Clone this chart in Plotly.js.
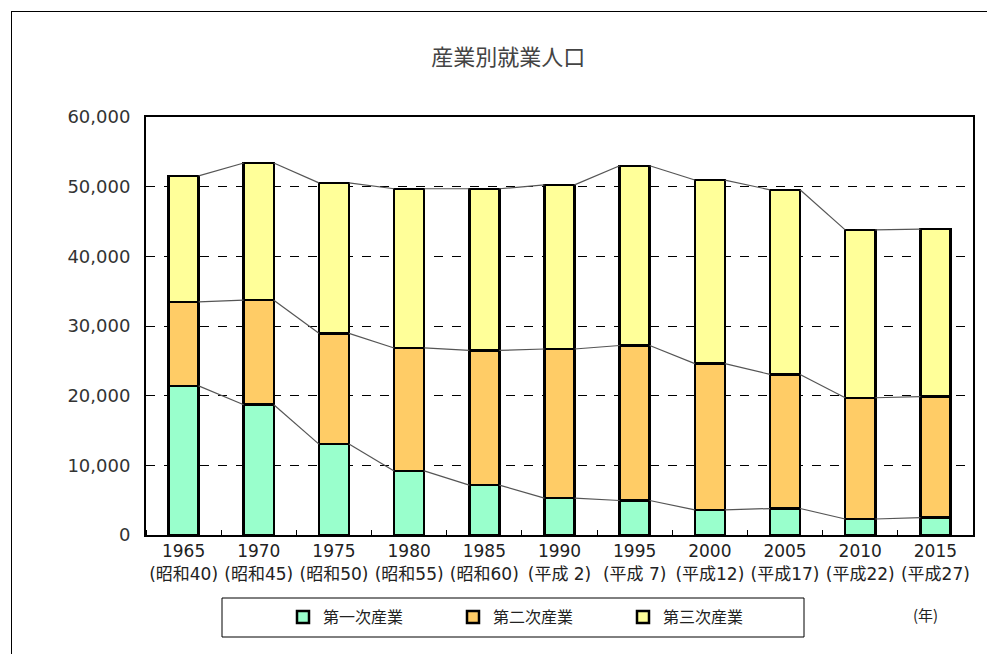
<!DOCTYPE html>
<html>
<head>
<meta charset="utf-8">
<script src="https://cdn.plot.ly/plotly-3.0.1.min.js"></script>
<style>
  html, body { margin: 0; padding: 0; background: #fff; }
  #chart { width: 987px; height: 654px; position: absolute; left: 0; top: 0; }
  #frame { position: absolute; left: 11px; top: 11px; width: 1000px; height: 700px;
           border-left: 1px solid #000; border-top: 1px solid #000; pointer-events: none; }
</style>
</head>
<body>
<div id="chart"></div>
<div id="frame"></div>
<script>
const years = ["1965","1970","1975","1980","1985","1990","1995","2000","2005","2010","2015"];
const eras  = ["(昭和40)","(昭和45)","(昭和50)","(昭和55)","(昭和60)","(平成 2)","(平成 7)","(平成12)","(平成17)","(平成22)","(平成27)"];
const seriesNames = ["第一次産業","第二次産業","第三次産業"];
const primary   = [21400, 18700, 13050, 9200, 7150, 5300, 4950, 3600, 3800, 2300, 2500];
const secondary = [12050, 15000, 15900, 17650, 19350, 21400, 22250, 21000, 19250, 17400, 17350];
const tertiary  = [18100, 19700, 21600, 22850, 23200, 23550, 25800, 26350, 26500, 24100, 24050];
const colors = ["#99FFCC", "#FFCC66", "#FFFF99"];

const xs = years.map((_, i) => i);
const barWidth = 0.4;
const data = [];
const series = [primary, secondary, tertiary];
series.forEach((vals, k) => {
  data.push({
    type: 'bar', x: xs, y: vals, name: seriesNames[k], width: barWidth,
    marker: { color: colors[k], line: { color: '#000', width: 2.5 } },
    hoverinfo: 'y'
  });
});
// series connector lines between stacked tops
const cum = [];
series.forEach((vals, k) => {
  cum.push(vals.map((v, i) => v + (k > 0 ? cum[k-1][i] : 0)));
});
cum.forEach((c) => {
  const lx = [], ly = [];
  for (let i = 0; i < c.length - 1; i++) {
    lx.push(i + barWidth/2, i + 1 - barWidth/2, null);
    ly.push(c[i], c[i+1], null);
  }
  data.push({ type: 'scatter', mode: 'lines', x: lx, y: ly, showlegend: false,
    line: { color: '#555', width: 1.2 }, hoverinfo: 'skip' });
});

const font = "DejaVu Sans, Noto Sans CJK JP, sans-serif";
const cjk = "Noto Sans CJK JP, sans-serif";
const layout = {
  width: 987, height: 654,
  margin: { l: 146, r: 14, t: 117, b: 119, autoexpand: false },
  paper_bgcolor: '#fff', plot_bgcolor: '#fff',
  barmode: 'stack',
  title: { text: '産業別就業人口', x: 0.515, xanchor: 'center', y: 1 - 57/654, yanchor: 'middle',
           font: { family: cjk, size: 22, color: '#444' } },
  xaxis: {
    range: [-0.5, 10.5], tickvals: xs,
    ticktext: years.map((y, i) => y + '<br>' + eras[i]),
    tickfont: { family: font, size: 17, color: '#222' },
    ticks: '', showgrid: false, zeroline: false,
    showline: true, linecolor: '#000', linewidth: 2, mirror: true,
    minor: { ticks: 'inside', tick0: -0.5, dtick: 1, ticklen: 5, tickcolor: '#000', tickwidth: 1, showgrid: false },
    fixedrange: true
  },
  yaxis: {
    range: [0, 60000], dtick: 10000, tickformat: ',',
    tickfont: { family: font, size: 18, color: '#333' },
    showgrid: true, gridcolor: '#000', gridwidth: 1, griddash: 'dash',
    zeroline: false, showline: true, linecolor: '#000', linewidth: 2, mirror: true,
    ticks: '', ticklabelstandoff: 10, fixedrange: true
  },
  showlegend: true,
  legend: {
    orientation: 'h', x: (283-146)/827, xanchor: 'left',
    yref: 'container', y: 1 - 617/654, yanchor: 'middle',
    font: { family: cjk, size: 16, color: '#222' },
    bgcolor: 'rgba(0,0,0,0)', borderwidth: 0, entrywidth: 125, itemwidth: 30,
    traceorder: 'normal'
  },
  shapes: [{
    type: 'rect', xref: 'paper', yref: 'paper',
    x0: (222-146)/827, x1: (804-146)/827, y0: (535-637)/418, y1: (535-598)/418,
    line: { color: '#000', width: 1 }, fillcolor: 'rgba(0,0,0,0)'
  }],
  annotations: [{
    text: '(年)', xref: 'paper', yref: 'paper', x: (925-146)/827, y: (535-614)/418,
    showarrow: false, xanchor: 'center', yanchor: 'middle',
    font: { family: cjk, size: 15, color: '#222' }
  }]
};
Plotly.newPlot('chart', data, layout, { displayModeBar: false, staticPlot: true });
</script>
</body>
</html>
